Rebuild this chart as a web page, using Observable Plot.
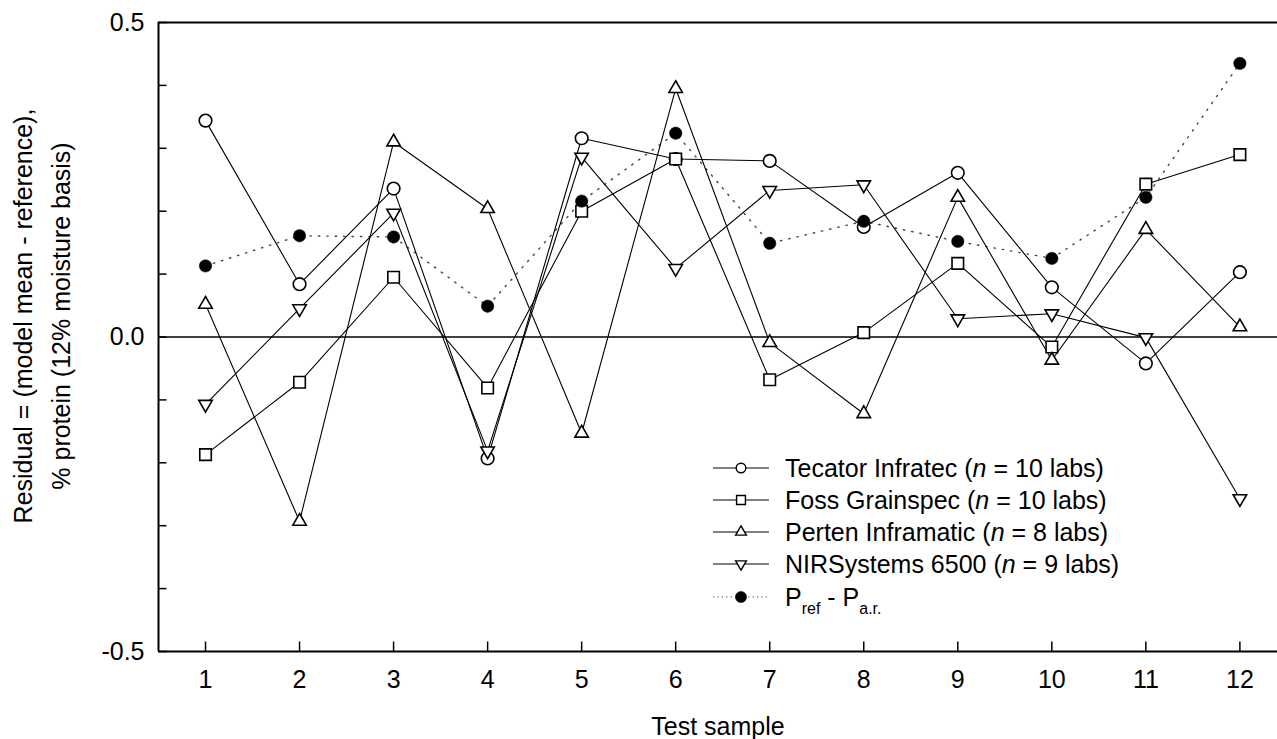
<!DOCTYPE html>
<html>
<head>
<meta charset="utf-8">
<script src="https://cdn.jsdelivr.net/npm/d3@7"></script>
<script src="https://cdn.jsdelivr.net/npm/@observablehq/plot@0.6"></script>
<style>
  html, body { margin: 0; padding: 0; background: #fff; }
  #wrap { position: relative; width: 1277px; height: 739px; font-family: "Liberation Sans", Arial, Helvetica, sans-serif; color: #000; }
  #legend { position: absolute; left: 0; top: 0; }
  .lrow { position: absolute; display: flex; align-items: center; height: 32px; font-size: 25px; white-space: nowrap; }
  .lrow svg { display: block; }
  .lrow span.t { margin-left: 16px; line-height: 32px; }
  .lrow sub { font-size: 16px; vertical-align: -8px; line-height: 0; }
</style>
</head>
<body>
<div id="wrap"></div>
<script>
// ---------- data ----------
const samples = [1, 2, 3, 4, 5, 6, 7, 8, 9, 10, 11, 12];
const tecator = [0.344, 0.084, 0.236, -0.193, 0.316, 0.283, 0.280, 0.175, 0.261, 0.079, -0.042, 0.103];
const foss    = [-0.187, -0.072, 0.095, -0.081, 0.200, 0.283, -0.068, 0.007, 0.117, -0.016, 0.243, 0.290];
const perten  = [0.052, -0.293, 0.310, 0.204, -0.153, 0.395, -0.009, -0.122, 0.222, -0.037, 0.171, 0.016];
const nirsys  = [-0.107, 0.045, 0.197, -0.181, 0.286, 0.109, 0.233, 0.242, 0.029, 0.037, -0.001, -0.257];
const prefPar = [0.113, 0.161, 0.159, 0.049, 0.216, 0.324, 0.149, 0.184, 0.152, 0.125, 0.222, 0.435];

const seriesNames = ["Tecator Infratec", "Foss Grainspec", "Perten Inframatic", "NIRSystems 6500"];
const seriesValues = [tecator, foss, perten, nirsys];
const legendLabels = [
  "Tecator Infratec (<i>n</i> = 10 labs)",
  "Foss Grainspec (<i>n</i> = 10 labs)",
  "Perten Inframatic (<i>n</i> = 8 labs)",
  "NIRSystems 6500 (<i>n</i> = 9 labs)",
  "P<sub>ref</sub> - P<sub>a.r.</sub>"
];
const yTickValues = [-0.5, -0.4, -0.3, -0.2, -0.1, 0, 0.1, 0.2, 0.3, 0.4, 0.5];
const yLabelValues = [-0.5, 0, 0.5];
const yTitle = "Residual = (model mean - reference),\n% protein (12% moisture basis)";
const xTitle = "Test sample";

// ---------- symbols ----------
const sqrt3 = Math.sqrt(3);
const triangleDown = {
  draw(ctx, size) {
    const y = -Math.sqrt(size / (sqrt3 * 3));
    ctx.moveTo(0, -y * 2);
    ctx.lineTo(-sqrt3 * y, y);
    ctx.lineTo(sqrt3 * y, y);
    ctx.closePath();
  }
};
const tickRight = { draw(ctx) { ctx.moveTo(0, 0); ctx.lineTo(8, 0); } };
const tickUp = { draw(ctx) { ctx.moveTo(0, 0); ctx.lineTo(0, -10); } };

const symbols = ["circle", "square", "triangle", triangleDown];
const radii = [6.3, 6.5, 5.0, 5.0];

const table = seriesNames.flatMap((s, i) => samples.map((x, j) => ({ series: s, sample: x, value: seriesValues[i][j] })));
const prefTable = samples.map((x, j) => ({ sample: x, value: prefPar[j] }));

const font = "Liberation Sans, Arial, Helvetica, sans-serif";

const chart = Plot.plot({
  width: 1277,
  height: 739,
  marginLeft: 158,
  marginRight: 0,
  marginTop: 22,
  marginBottom: 88,
  x: { domain: [0.5, 12.4] },
  y: { domain: [-0.5, 0.5] },
  style: { fontFamily: font, fontSize: "25px", background: "#fff", color: "#000", overflow: "visible" },
  marks: [
    // frame
    Plot.ruleY([0.5, -0.5], { stroke: "#000", strokeWidth: 2 }),
    Plot.ruleX([0.5], { stroke: "#000", strokeWidth: 2 }),
    Plot.ruleY([0], { stroke: "#000", strokeWidth: 1.6 }),
    // inward ticks
    Plot.dot(yTickValues, { y: d => d, frameAnchor: "left", symbol: tickRight, stroke: "#000", strokeWidth: 1.5, fill: "none" }),
    Plot.dot(samples, { x: d => d, frameAnchor: "bottom", symbol: tickUp, stroke: "#000", strokeWidth: 1.5, fill: "none" }),
    // axes labels
    Plot.axisY({ ticks: yLabelValues, tickSize: 0, tickPadding: 14, tickFormat: d => d.toFixed(1), label: null, fontSize: 25 }),
    Plot.axisX({ ticks: samples, tickSize: 0, tickPadding: 19, tickFormat: d => String(d), label: null, fontSize: 25 }),
    Plot.text([xTitle], { frameAnchor: "bottom", dy: 83, lineAnchor: "bottom", fontSize: 25, fill: "#000" }),
    Plot.text([yTitle], { frameAnchor: "left", rotate: -90, dx: -119.5, dy: -21, lineAnchor: "middle", textAnchor: "middle", lineHeight: 1.5, fontSize: 25, fill: "#000" }),
    // dotted reference line
    Plot.line(prefTable, { x: "sample", y: "value", stroke: "#444", strokeWidth: 1.4, strokeDasharray: "1.4,7", strokeLinecap: "round" }),
    // series lines
    Plot.line(table, { x: "sample", y: "value", z: "series", stroke: "#000", strokeWidth: 1.1 }),
    // series markers
    ...seriesNames.map((s, i) => Plot.dot(table.filter(d => d.series === s), {
      x: "sample", y: "value", symbol: symbols[i], r: radii[i], fill: "#fff", stroke: "#000", strokeWidth: 1.6
    })),
    Plot.dot(prefTable, { x: "sample", y: "value", r: 6.2, fill: "#000", stroke: "#000", strokeWidth: 0.5 })
  ]
});

const wrap = document.getElementById("wrap");
wrap.appendChild(chart);

// ---------- legend (overlay) ----------
const legend = d3.select(wrap).append("div").attr("id", "legend");
const rowTops = [452, 484, 516, 548, 581];
const legendLeft = 713;
const legendSymbols = symbols.concat(["circle"]);
const legendR = [4.8, 5.0, 4.0, 4.0, 5.6];
legendLabels.forEach((lab, i) => {
  const row = legend.append("div").attr("class", "lrow")
    .style("left", legendLeft + "px").style("top", rowTops[i] + "px");
  const svg = row.append("svg").attr("width", 56).attr("height", 32);
  const dotted = i === 4;
  svg.append("line").attr("x1", 0).attr("x2", 56).attr("y1", 16).attr("y2", 16)
    .attr("stroke", dotted ? "#444" : "#000").attr("stroke-width", dotted ? 1.2 : 1.1)
    .attr("stroke-dasharray", dotted ? "1.2,3.2" : null);
  const sym = legendSymbols[i];
  const type = typeof sym === "string"
    ? ({ circle: d3.symbolCircle, square: d3.symbolSquare, triangle: d3.symbolTriangle })[sym]
    : sym;
  svg.append("path")
    .attr("d", d3.symbol(type, Math.PI * legendR[i] * legendR[i])())
    .attr("transform", "translate(28,16)")
    .attr("fill", dotted ? "#000" : "#fff")
    .attr("stroke", "#000").attr("stroke-width", dotted ? 0.5 : 1.4);
  row.append("span").attr("class", "t").html(lab);
});
</script>
</body>
</html>
